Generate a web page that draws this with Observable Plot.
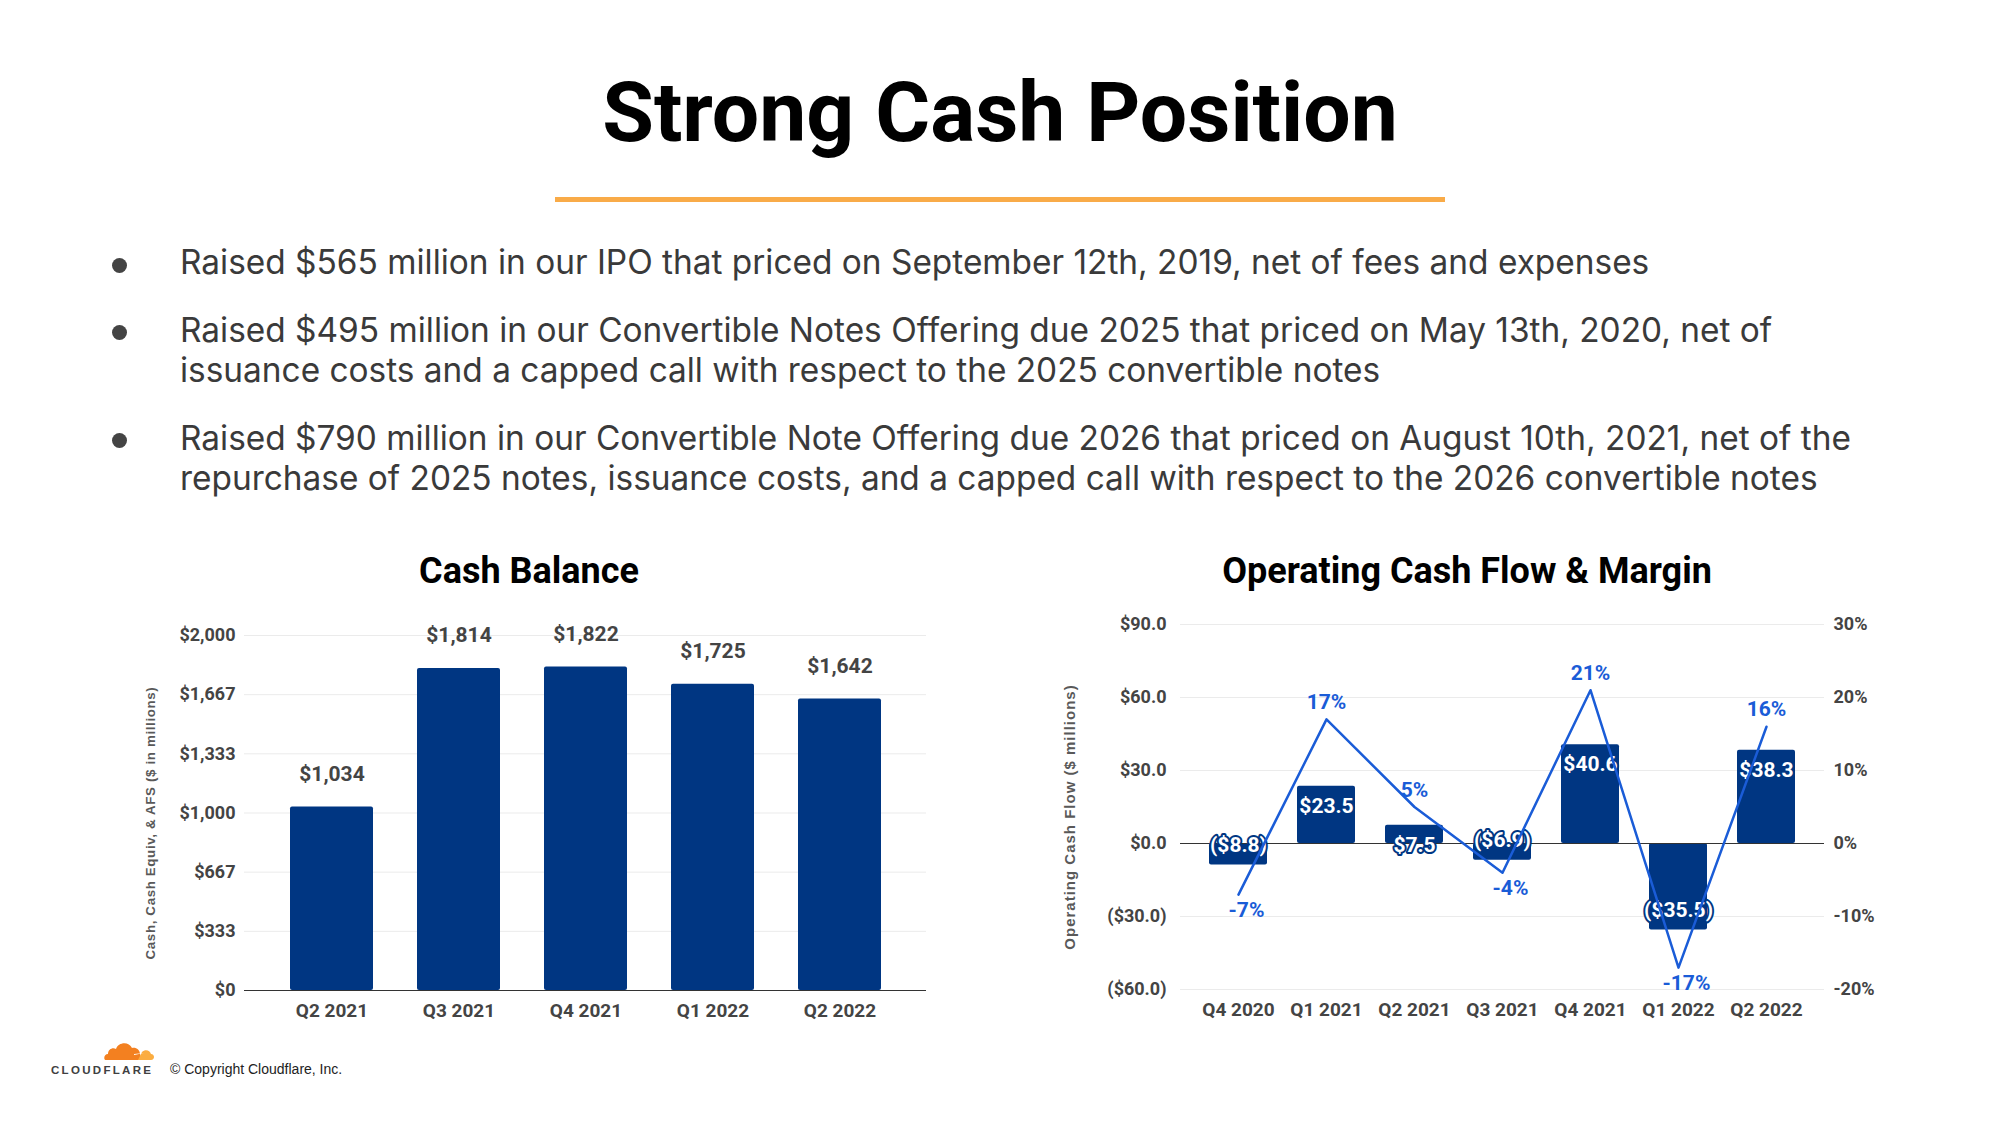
<!DOCTYPE html>
<html>
<head>
<meta charset="utf-8">
<script src="https://cdn.jsdelivr.net/npm/d3@7"></script>
<script src="https://cdn.jsdelivr.net/npm/@observablehq/plot@0.6"></script>
<style>
  html, body { margin: 0; padding: 0; background: #ffffff; }
  body { width: 2000px; height: 1125px; position: relative; overflow: hidden; font-family: Inter, Roboto, sans-serif; }
  .abs { position: absolute; }
  #title { left: 0; width: 2000px; top: 71px; text-align: center; font-family: Roboto, sans-serif; font-weight: 700; font-size: 84px; line-height: 84px; color: #000; }
  #rule { left: 555px; top: 197px; width: 890px; height: 5px; background: #F9AB48; }
  .bullet { left: 180px; width: 1780px; font-family: Inter, sans-serif; font-size: 33.4px; line-height: 39.5px; color: #3a3a3a; white-space: nowrap; }
  .dot { width: 15px; height: 15px; border-radius: 50%; background: #444; left: 112px; }
  .ctitle { font-family: Roboto, sans-serif; font-weight: 700; font-size: 36px; line-height: 36px; color: #000; transform: translateX(-50%); white-space: nowrap; }
  .ylab { font-family: "Liberation Sans", Arial, sans-serif; font-weight: 700; color: #595959; white-space: nowrap; transform: translate(-50%, -50%) rotate(-90deg); }
  #copy { left: 170px; top: 1061px; font-family: "Liberation Sans", Arial, sans-serif; font-size: 14px; color: #222; white-space: nowrap; }
  #cfword { left: 51px; top: 1064px; font-family: "Liberation Sans", Arial, sans-serif; font-weight: 700; font-size: 11.5px; letter-spacing: 2.3px; color: #404041; white-space: nowrap; }
</style>
</head>
<body>
<div id="title" class="abs">Strong Cash Position</div>
<div id="rule" class="abs"></div>

<div class="abs dot" style="top:258px"></div>
<div class="abs bullet" style="top:243px">Raised $565 million in our IPO that priced on September 12th, 2019, net of fees and expenses</div>
<div class="abs dot" style="top:325px"></div>
<div class="abs bullet" style="top:311px">Raised $495 million in our Convertible Notes Offering due 2025 that priced on May 13th, 2020, net of<br>issuance costs and a capped call with respect to the 2025 convertible notes</div>
<div class="abs dot" style="top:433px"></div>
<div class="abs bullet" style="top:419px">Raised $790 million in our Convertible Note Offering due 2026 that priced on August 10th, 2021, net of the<br>repurchase of 2025 notes, issuance costs, and a capped call with respect to the 2026 convertible notes</div>

<div class="abs ctitle" style="left:529px; top:553px">Cash Balance</div>
<div class="abs ctitle" style="left:1467px; top:553px">Operating Cash Flow &amp; Margin</div>

<div id="chartL" class="abs" style="left:100px; top:600px;"></div>
<div id="chartR" class="abs" style="left:1040px; top:600px;"></div>

<div class="abs ylab" style="left:150px; top:823px; font-size:13.3px; letter-spacing:0.65px;">Cash, Cash Equiv, &amp; AFS ($ in millions)</div>
<div class="abs ylab" style="left:1069px; top:817px; font-size:15px; letter-spacing:1px;">Operating Cash Flow ($ millions)</div>

<svg class="abs" style="left:104px; top:1039px" width="52" height="24" viewBox="0 0 52 24">
  <path d="M2 21 C-1 21 0 15 4 15 C4 10 9 8 12 10 C14 3 25 2 28 9 C32 8 36 11 36 15 L38 21 Z" fill="#F38020"/>
  <path d="M34 21 L38 13 C41 10 46 11 47 15 C51 15 51 21 47 21 Z" fill="#FBAD41"/>
  <path d="M30 15 L40 14 L30 16 Z" fill="#ffffff"/>
</svg>
<div id="cfword" class="abs">CLOUDFLARE</div>
<div id="copy" class="abs">© Copyright Cloudflare, Inc.</div>

<script>
// ---------- Data: Cash Balance ----------
const cashQuarters = ["Q2 2021", "Q3 2021", "Q4 2021", "Q1 2022", "Q2 2022"];
const cashBalance = [1034, 1814, 1822, 1725, 1642];
const cashTicks = [0, 333.3, 666.7, 1000, 1333.3, 1666.7, 2000];
const cashTickLabels = ["$0", "$333", "$667", "$1,000", "$1,333", "$1,667", "$2,000"];

// ---------- Data: Operating Cash Flow & Margin ----------
const ocfQuarters = ["Q4 2020", "Q1 2021", "Q2 2021", "Q3 2021", "Q4 2021", "Q1 2022", "Q2 2022"];
const ocfValues = [-8.8, 23.5, 7.5, -6.9, 40.6, -35.5, 38.3];
const ocfMargin = [-7, 17, 5, -4, 21, -17, 16];
const ocfTicks = [-60, -30, 0, 30, 60, 90];
const ocfTickLabels = ["($60.0)", "($30.0)", "$0.0", "$30.0", "$60.0", "$90.0"];
const marginTicks = [-20, -10, 0, 10, 20, 30];
const marginTickLabels = ["-20%", "-10%", "0%", "10%", "20%", "30%"];

const NAVY = "#003682";
const BLUE = "#1a5cd7";

// ---------- Left chart ----------
const cashData = cashQuarters.map((q, i) => ({q, v: cashBalance[i]}));
const fmtCash = d3.format(",");
const left = Plot.plot({
  width: 860, height: 430,
  marginTop: 35, marginBottom: 40, marginLeft: 144, marginRight: 34,
  style: {fontFamily: "Roboto, sans-serif", background: "transparent", overflow: "visible"},
  x: {domain: cashQuarters, padding: 0.35, label: null},
  y: {domain: [cashTicks[0], cashTicks[cashTicks.length - 1]], label: null},
  marks: [
    Plot.ruleY(cashTicks.filter(d => d !== 0), {stroke: "#ebebeb", strokeWidth: 1}),
    Plot.barY(cashData, {x: "q", y: "v", fill: NAVY, rx: 2}),
    Plot.ruleY([0], {stroke: "#333", strokeWidth: 1.2}),
    Plot.text(cashData, {x: "q", y: "v", text: d => "$" + fmtCash(d.v), dy: -33, fontSize: 21, fontWeight: 700, fill: "#444"}),
    Plot.axisY(cashTicks, {tickFormat: d => cashTickLabels[cashTicks.indexOf(d)], tickSize: 0, tickPadding: 9, fontSize: 18, fontWeight: 700, fill: "#444", label: null}),
    Plot.axisX({tickSize: 0, tickPadding: 13, fontSize: 19, fontWeight: 700, fill: "#444", label: null})
  ]
});
document.getElementById("chartL").appendChild(left);

// ---------- Right chart ----------
const ratio = ocfTicks[ocfTicks.length - 1] / marginTicks[marginTicks.length - 1];
const ocfData = ocfQuarters.map((q, i) => ({q, v: ocfValues[i], m: ocfMargin[i]}));
const fmtOcf = v => v < 0 ? `($${(-v).toFixed(1)})` : `$${v.toFixed(1)}`;
const right = Plot.plot({
  width: 900, height: 430,
  marginTop: 24, marginBottom: 41, marginLeft: 140, marginRight: 116,
  style: {fontFamily: "Roboto, sans-serif", background: "transparent", overflow: "visible"},
  x: {domain: ocfQuarters, paddingInner: 0.34, paddingOuter: 0.3, label: null},
  y: {domain: [ocfTicks[0], ocfTicks[ocfTicks.length - 1]], label: null},
  marks: [
    Plot.ruleY(ocfTicks.filter(d => d !== 0), {stroke: "#ebebeb", strokeWidth: 1}),
    Plot.barY(ocfData, {x: "q", y: "v", fill: NAVY, rx: 2}),
    Plot.ruleY([0], {stroke: "#333", strokeWidth: 1.2}),
    Plot.text(ocfData.filter(d => d.v >= 0), {x: "q", y: "v", text: d => fmtOcf(d.v), dy: 20, fontSize: 21, fontWeight: 700, fill: "#fff", stroke: NAVY, strokeWidth: 4}),
    Plot.text(ocfData.filter(d => d.v < 0), {x: "q", y: "v", text: d => fmtOcf(d.v), dy: -20, fontSize: 21, fontWeight: 700, fill: "#fff", stroke: NAVY, strokeWidth: 4}),
    Plot.line(ocfData, {x: "q", y: d => d.m * ratio, stroke: BLUE, strokeWidth: 2.5}),
    Plot.text(ocfData.filter(d => d.m >= 0), {x: "q", y: d => d.m * ratio, text: d => d.m + "%", dy: -17, fontSize: 21, fontWeight: 700, fill: BLUE}),
    Plot.text(ocfData.filter(d => d.m < 0), {x: "q", y: d => d.m * ratio, text: d => d.m + "%", dy: 16, dx: 8, fontSize: 21, fontWeight: 700, fill: BLUE}),
    Plot.axisY(ocfTicks, {anchor: "left", tickFormat: d => ocfTickLabels[ocfTicks.indexOf(d)], tickSize: 0, tickPadding: 14, fontSize: 18, fontWeight: 700, fill: "#444", label: null}),
    Plot.axisY(marginTicks.map(m => m * ratio), {anchor: "right", tickFormat: d => marginTickLabels[marginTicks.indexOf(d / ratio)], tickSize: 0, tickPadding: 9, fontSize: 18, fontWeight: 700, fill: "#444", label: null}),
    Plot.axisX({tickSize: 0, tickPadding: 13, fontSize: 19, fontWeight: 700, fill: "#444", label: null})
  ]
});
document.getElementById("chartR").appendChild(right);
</script>
</body>
</html>
